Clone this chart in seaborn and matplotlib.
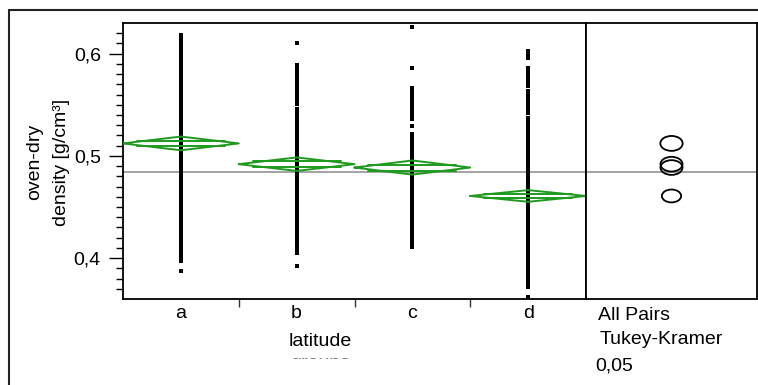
import numpy as np
import pandas as pd
import seaborn as sns
import matplotlib.pyplot as plt
from matplotlib.patches import Ellipse, Rectangle
from matplotlib.lines import Line2D

sns.set_theme(style="white")
plt.rcParams['font.family'] = ['Liberation Sans', 'DejaVu Sans']
plt.rcParams['text.color'] = 'black'
plt.rcParams['xtick.color'] = 'black'
plt.rcParams['ytick.color'] = 'black'

# groups and the visible dots of each group
groups = ['a', 'b', 'c', 'd']
dens_a = [0.618, 0.614, 0.611, 0.608, 0.605, 0.602, 0.599, 0.596, 0.593, 0.590,
          0.587, 0.584, 0.581, 0.578, 0.575, 0.572, 0.569, 0.566, 0.563, 0.560,
          0.557, 0.554, 0.551, 0.548, 0.545, 0.542, 0.539, 0.536, 0.533, 0.530,
          0.527, 0.524, 0.521, 0.518, 0.515, 0.512, 0.509, 0.506, 0.503, 0.500,
          0.497, 0.494, 0.491, 0.488, 0.485, 0.482, 0.479, 0.476, 0.473, 0.470,
          0.467, 0.464, 0.461, 0.458, 0.455, 0.452, 0.449, 0.446, 0.443, 0.440,
          0.437, 0.434, 0.431, 0.428, 0.425, 0.422, 0.418, 0.414, 0.410, 0.406,
          0.403, 0.400, 0.397, 0.387]
dens_b = [0.610, 0.589, 0.585, 0.581, 0.578, 0.575, 0.572, 0.569, 0.566, 0.563,
          0.560, 0.557, 0.554, 0.551, 0.546, 0.543, 0.540, 0.537, 0.534, 0.531,
          0.528, 0.525, 0.522, 0.519, 0.516, 0.513, 0.510, 0.507, 0.504, 0.501,
          0.498, 0.495, 0.492, 0.489, 0.486, 0.483, 0.480, 0.477, 0.474, 0.471,
          0.468, 0.465, 0.462, 0.459, 0.456, 0.453, 0.450, 0.447, 0.444, 0.441,
          0.438, 0.435, 0.432, 0.429, 0.426, 0.423, 0.420, 0.417, 0.413, 0.409,
          0.405, 0.392]
dens_c = [0.626, 0.586, 0.566, 0.563, 0.560, 0.557, 0.554, 0.551, 0.548, 0.545,
          0.542, 0.539, 0.536, 0.529, 0.521, 0.518, 0.515, 0.512, 0.509, 0.506,
          0.503, 0.500, 0.497, 0.494, 0.491, 0.488, 0.485, 0.482, 0.479, 0.476,
          0.473, 0.470, 0.467, 0.464, 0.461, 0.458, 0.455, 0.452, 0.449, 0.446,
          0.443, 0.440, 0.437, 0.434, 0.431, 0.428, 0.425, 0.422, 0.419, 0.415,
          0.411]
dens_d = [0.603, 0.600, 0.596, 0.586, 0.583, 0.580, 0.577, 0.574, 0.571, 0.568,
          0.563, 0.560, 0.557, 0.554, 0.551, 0.548, 0.545, 0.542, 0.537, 0.534,
          0.531, 0.528, 0.525, 0.522, 0.519, 0.516, 0.513, 0.510, 0.507, 0.504,
          0.501, 0.498, 0.495, 0.492, 0.489, 0.486, 0.483, 0.480, 0.477, 0.474,
          0.471, 0.468, 0.465, 0.462, 0.459, 0.456, 0.453, 0.450, 0.447, 0.444,
          0.441, 0.438, 0.435, 0.432, 0.429, 0.426, 0.423, 0.420, 0.417, 0.414,
          0.411, 0.408, 0.405, 0.402, 0.399, 0.396, 0.393, 0.390, 0.387, 0.384,
          0.381, 0.378, 0.375, 0.372, 0.362]

# means diamonds and comparison circles
group_means = [0.5122, 0.4919, 0.4886, 0.4608]
ci_half = [0.0067, 0.0066, 0.0069, 0.0057]
circle_radius = [0.0073, 0.0072, 0.0072, 0.0063]
grand_mean = 0.4843

df = pd.DataFrame({
    'group': ['a'] * len(dens_a) + ['b'] * len(dens_b) + ['c'] * len(dens_c) + ['d'] * len(dens_d),
    'density': dens_a + dens_b + dens_c + dens_d,
})

green = '#1f9a1f'
W, H = 758, 385
fig = plt.figure(figsize=(7.58, 3.85), dpi=100)
ax = fig.add_axes([123 / W, 1 - 299 / H, (586 - 123) / W, (299 - 23) / H])
axc = fig.add_axes([586 / W, 1 - 299 / H, (757 - 586) / W, (299 - 23) / H], sharey=ax)

sns.stripplot(data=df, x='group', y='density', order=groups, jitter=False,
              marker='s', size=2.7, color='black', linewidth=0, ax=ax, zorder=2)

for i, (m, h) in enumerate(zip(group_means, ci_half)):
    ax.plot([i - 0.5, i, i + 0.5, i, i - 0.5], [m, m + h, m, m - h, m],
            color=green, lw=1.4, zorder=3)
    d = h * 0.42
    ax.plot([i - 0.38, i + 0.38], [m + d, m + d], color=green, lw=1.4, zorder=3)
    ax.plot([i - 0.38, i + 0.38], [m - d, m - d], color=green, lw=1.4, zorder=3)

ax.axhline(grand_mean, color='#8a8a8a', lw=1.1, zorder=1)
axc.axhline(grand_mean, color='#8a8a8a', lw=1.1, zorder=1)

ax.set_xlim(-0.5, 3.5)
ax.set_ylim(0.36, 0.63)
ax.set_xlabel('')
ax.set_ylabel('')
ax.set_yticks([0.4, 0.5, 0.6])
ax.set_yticklabels(['0,4', '0,5', '0,6'])
ax.set_yticks(np.arange(0.37, 0.63, 0.01), minor=True)
ax.tick_params(axis='y', which='major', left=True, length=10, width=1, direction='out',
               labelsize=14, pad=6, color='black')
ax.tick_params(axis='y', which='minor', left=True, length=5, width=1, direction='out', color='black')
ax.set_xticks(range(4))
ax.set_xticklabels(groups)
ax.set_xticks([0.5, 1.5, 2.5], minor=True)
ax.tick_params(axis='x', which='major', length=0, labelsize=14, pad=4)
ax.tick_params(axis='x', which='minor', bottom=True, length=6, width=1, direction='out', color='#333333')
for sp in ax.spines.values():
    sp.set_visible(True)
    sp.set_color('black')
    sp.set_linewidth(1.3)

axc.set_xlim(0, 1)
for r_, m in zip(circle_radius, group_means):
    wid = 2 * r_ * 1020 * 1.5 / 171
    axc.add_patch(Ellipse((0.5, m), wid, 2 * r_, fill=False, ec='black', lw=1.3, zorder=3))
axc.tick_params(left=False, bottom=False, labelleft=False, labelbottom=False)
for sp in axc.spines.values():
    sp.set_visible(True)
    sp.set_color('black')
    sp.set_linewidth(1.3)

# outer frame
fig.add_artist(Line2D([9 / W, 1], [1 - 10 / H, 1 - 10 / H], color='#222222', lw=1.5))
fig.add_artist(Line2D([9 / W, 9 / W], [0, 1 - 10 / H], color='#222222', lw=1.5))

fig.text(48 / W, 1 - 162 / H, 'oven-dry\ndensity [g/cm³]', rotation=90, ha='center', va='center',
         fontsize=14, linespacing=1.7)
fig.text(320 / W, 1 - 342 / H, 'latitude', ha='center', va='center', fontsize=14)
t = fig.text(320 / W, 1 - 355 / H, 'groups', ha='center', va='top', fontsize=14, color='#777777')
t.set_clip_path(Rectangle((0, 1 - 359 / H), 1, 1, transform=fig.transFigure))

fig.text(598 / W, 1 - 316 / H, 'All Pairs', ha='left', va='center', fontsize=14)
fig.text(600 / W, 1 - 340 / H, 'Tukey-Kramer', ha='left', va='center', fontsize=14)
fig.text(595 / W, 1 - 366 / H, '0,05', ha='left', va='center', fontsize=14)

fig.savefig('out.png', dpi=100)
